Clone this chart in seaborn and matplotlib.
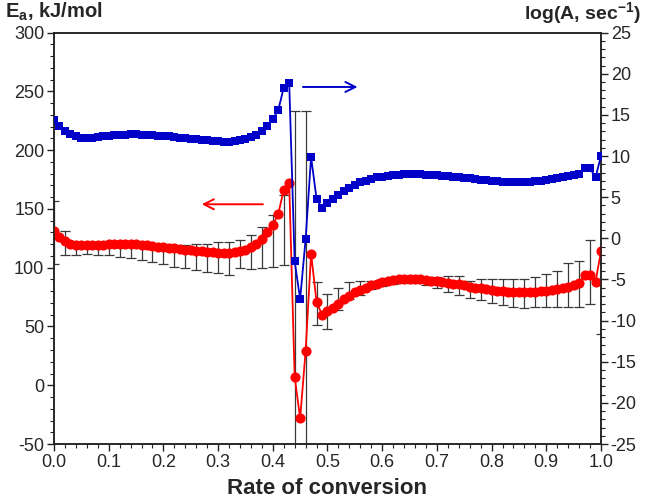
import numpy as np
import seaborn as sns
from matplotlib import pyplot as plt
from matplotlib.ticker import MultipleLocator

# conversion grid, one point every 0.01
conversion = np.round(np.arange(0, 101) * 0.01, 2)

# activation energy, kJ/mol (red circles, left axis)
ea = [
    131, 126, 122.5, 120.5, 119.5, 119, 119, 119, 119, 119.5,
    120, 120, 120, 120, 120, 120, 119.5, 119, 118.5, 118,
    117.5, 117, 116.5, 116, 115.5, 115, 114.5, 114, 113.5, 113,
    112.5, 112.5, 112.5, 113, 114, 115.5, 117.5, 120.5, 124.5, 130,
    136, 146, 166, 172, 7, -28, 29, 112, 71, 60,
    63, 66, 69.5, 73, 76, 79, 81, 83, 85, 86.5,
    88, 89, 89.5, 90, 90, 90, 90, 90, 89.5, 89,
    88.5, 88, 87, 86.5, 86, 85, 84, 83, 82.5, 82,
    81, 80.5, 80, 79.5, 79, 79, 79, 79, 79.5, 80,
    80.5, 81, 82, 83, 84, 85, 87, 93.5, 93.5, 88,
    114,
]

# log of pre-exponential factor (blue squares, right axis)
log_a = [
    14.4, 13.6, 13.1, 12.7, 12.4, 12.2, 12.15, 12.2, 12.3, 12.4,
    12.5, 12.55, 12.6, 12.6, 12.65, 12.65, 12.6, 12.6, 12.55, 12.5,
    12.45, 12.4, 12.3, 12.25, 12.2, 12.1, 12.05, 12.0, 11.9, 11.85,
    11.8, 11.75, 11.75, 11.8, 11.9, 12.05, 12.3, 12.6, 13.1, 13.7,
    14.5, 15.6, 18.3, 18.9, -2.8, -7.4, -0.1, 9.9, 4.8, 3.7,
    4.3, 4.8, 5.3, 5.7, 6.1, 6.5, 6.8, 7.0, 7.2, 7.4,
    7.5, 7.6, 7.7, 7.75, 7.8, 7.8, 7.8, 7.8, 7.75, 7.7,
    7.65, 7.6, 7.55, 7.5, 7.4, 7.35, 7.3, 7.2, 7.15, 7.1,
    7.0, 6.95, 6.9, 6.85, 6.85, 6.85, 6.85, 6.9, 6.95, 7.0,
    7.1, 7.2, 7.3, 7.4, 7.55, 7.7, 7.85, 8.5, 8.5, 7.4,
    10.0,
]

# error bars on Ea, one every 0.02: low and high ends
err_x = np.round(np.arange(0, 51) * 0.02, 2)
err_lo = [
    103, 110.5, 110.5, 112, 110.5, 110.5, 109, 108, 106.5, 105,
    103.5, 101, 99.5, 98, 96.5, 95.5, 94, 99.5, 98.5, 99.5,
    101, 102, -80, -80, 51, 48, 64, 73, 77, 81.5,
    84.5, 86, 87, 87, 85.5, 82.5, 79.5, 77, 74, 72.5,
    70, 68.5, 67, 66, 67, 67, 67, 67, 67, 69,
    44,
]
err_hi = [
    157, 131.5, 120.5, 118.5, 119, 119, 120, 120, 120, 120,
    120, 119, 119, 120, 120, 121.5, 121.5, 124, 128, 135,
    145, 162, 233, 233, 88, 78, 83, 88, 89, 89,
    90, 90, 90, 90, 91, 92, 93, 93, 89, 90.5,
    90.5, 90.5, 90.5, 90.5, 92, 95, 97.5, 104, 106, 124,
    345,
]

RED = '#ff0000'
BLUE = '#0000c8'

sns.set_style('ticks')
plt.rcParams['font.family'] = ['Liberation Sans', 'DejaVu Sans']
plt.rcParams['axes.unicode_minus'] = False
plt.rcParams['mathtext.fontset'] = 'custom'
plt.rcParams['mathtext.rm'] = 'Liberation Sans'
plt.rcParams['mathtext.bf'] = 'Liberation Sans:bold'

fig = plt.figure(figsize=(6.46, 4.98), dpi=100)
ax = fig.add_axes([0.0836, 0.1084, 0.8467, 0.8260])
ax2 = ax.twinx()

err_mid = (np.array(err_lo) + np.array(err_hi)) / 2
err_half = (np.array(err_hi) - np.array(err_lo)) / 2
ax.errorbar(err_x, err_mid, yerr=err_half, fmt='none', ecolor='#3a3a3a',
            elinewidth=0.9, capsize=3.5, capthick=0.9, zorder=1)

sns.lineplot(x=conversion, y=ea, ax=ax, color=RED, marker='o', markersize=7.3,
             markeredgewidth=0, linewidth=1.3, zorder=3)
sns.lineplot(x=conversion, y=log_a, ax=ax2, color=BLUE, marker='s', markersize=6.2,
             markeredgewidth=0, linewidth=1.3, zorder=3)

ax.set_xlim(0, 1.0)
ax.set_ylim(-50, 300)
ax2.set_ylim(-25, 25)

ax.xaxis.set_major_locator(MultipleLocator(0.1))
ax.xaxis.set_minor_locator(MultipleLocator(0.02))
ax.yaxis.set_major_locator(MultipleLocator(50))
ax.yaxis.set_minor_locator(MultipleLocator(10))
ax2.yaxis.set_major_locator(MultipleLocator(5))
ax2.yaxis.set_minor_locator(MultipleLocator(1))
ax.xaxis.set_major_formatter(plt.FormatStrFormatter('%.1f'))

for a in (ax, ax2):
    a.tick_params(which='major', direction='out', length=5, width=1, labelsize=13,
                  color='#222222', pad=2)
    a.tick_params(which='minor', direction='out', length=3, width=0.8, color='#222222')
    for s in a.spines.values():
        s.set_linewidth(1.1)
        s.set_color('#222222')
    a.set_ylabel('')

ax.set_xlabel('Rate of conversion', fontsize=16, fontweight='bold', labelpad=5)

fig.text(0.008, 0.999, r'E$_\mathbf{a}$, kJ/mol', fontsize=14.5, fontweight='bold', va='top')
fig.text(0.992, 0.999, r'log(A, sec$^\mathbf{-1}$)', fontsize=14, fontweight='bold',
         va='top', ha='right')

ax.annotate('', xy=(0.265, 154), xytext=(0.387, 154),
            arrowprops=dict(arrowstyle='->', color=RED, lw=1.4, mutation_scale=18))
ax2.annotate('', xy=(0.56, 18.4), xytext=(0.45, 18.4),
             arrowprops=dict(arrowstyle='->', color=BLUE, lw=1.4, mutation_scale=18))

fig.savefig('out.png', dpi=100)
